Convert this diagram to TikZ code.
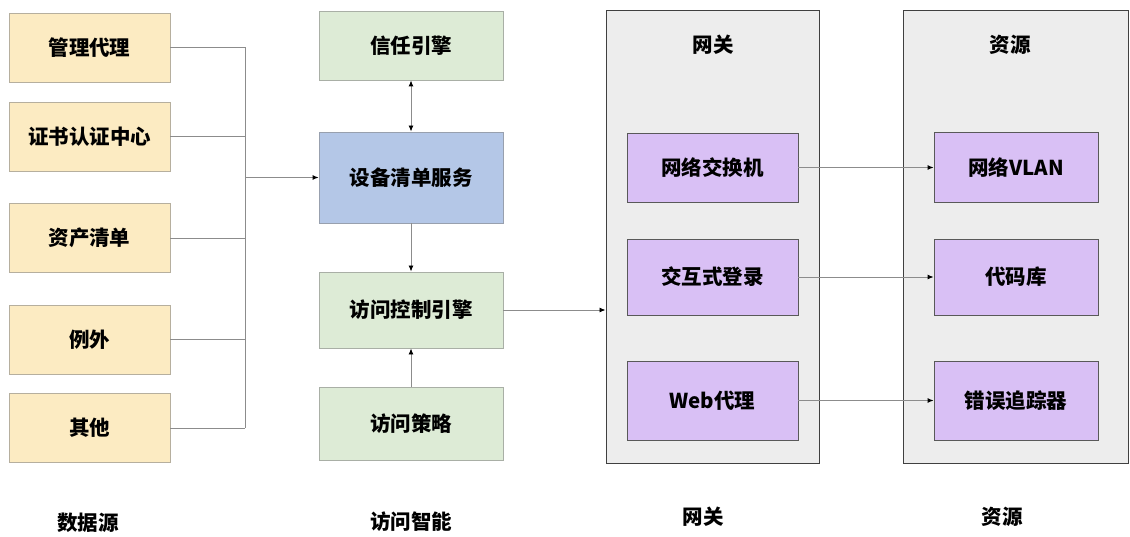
\documentclass[tikz,border=0pt]{standalone}
\usepackage{fontspec}
\setmainfont{Noto Sans CJK SC}
\usetikzlibrary{arrows.meta}
\definecolor{yel}{HTML}{FCEBC2}
\definecolor{grn}{HTML}{DDEBD6}
\definecolor{blu}{HTML}{B4C7E7}
\definecolor{pur}{HTML}{D9C0F5}
\definecolor{gbox}{HTML}{EDEDED}
\definecolor{lin}{HTML}{8C8C8C}
\newcommand{\txtfont}{\fontsize{20.5pt}{22pt}\selectfont\bfseries}
\tikzset{
  box/.style={draw=#1!60!black!70, line width=0.9pt, fill=#1, minimum width=161pt, minimum height=69pt, inner sep=0pt, font=\txtfont},
  midbox/.style={box=#1, minimum width=184pt},
  pbox/.style={draw=black!65, line width=0.9pt, fill=pur, inner sep=0pt, font=\txtfont},
  container/.style={draw=black!75, line width=1pt, fill=gbox, inner sep=0pt},
  lbl/.style={font=\txtfont, inner sep=0pt},
  conn/.style={draw=lin, line width=0.9pt},
  arr/.style={conn, -{Latex[length=6pt,width=5pt,color=black]}},
  darr/.style={conn, {Latex[length=6pt,width=5pt,color=black]}-{Latex[length=6pt,width=5pt,color=black]}},
}
\begin{document}
\begin{tikzpicture}[x=1pt,y=-1pt]
\useasboundingbox (0,0) rectangle (1130,537);
% data sources
\node[box=yel] (a1) at (89.5,47.5) {管理代理};
\node[box=yel] (a2) at (89.5,136.5) {证书认证中心};
\node[box=yel] (a3) at (89.5,238) {资产清单};
\node[box=yel] (a4) at (89.5,339.5) {例外};
\node[box=yel] (a5) at (89.5,428) {其他};
% access intelligence
\node[midbox=grn] (trust) at (411,45.5) {信任引擎};
\node[midbox=blu, minimum height=91pt] (dev) at (411,177.5) {设备清单服务};
\node[midbox=grn, minimum height=76pt] (ace) at (411,310) {访问控制引擎};
\node[midbox=grn, minimum height=73pt] (pol) at (411,423.5) {访问策略};
% containers
\node[container, minimum width=213pt, minimum height=452pt] (gw) at (712.5,237) {};
\node[container, minimum width=225pt, minimum height=452pt] (res) at (1015.5,237) {};
\node[lbl] (gwt) at (713,45) {网关};
\node[lbl] (rest) at (1010,45) {资源};
% gateway items
\node[pbox, minimum width=171pt, minimum height=69pt] (sw) at (712.5,167.5) {网络交换机};
\node[pbox, minimum width=171pt, minimum height=76pt] (login) at (712.5,277) {交互式登录};
\node[pbox, minimum width=171pt, minimum height=79pt] (web) at (712.5,400.5) {Web代理};
% resources
\node[pbox, minimum width=164pt, minimum height=70pt] (vlan) at (1016,167.5) {网络VLAN};
\node[pbox, minimum width=164pt, minimum height=76pt] (code) at (1016,277) {代码库};
\node[pbox, minimum width=164pt, minimum height=79pt] (bug) at (1016,400.5) {错误追踪器};
% bottom labels
\node[lbl] (l1) at (88,523) {数据源};
\node[lbl] (l2) at (411,522) {访问智能};
\node[lbl] (l3) at (703,517) {网关};
\node[lbl] (l4) at (1002,517) {资源};
% connectors
\coordinate (busx) at (245,0);
\foreach \n in {a1,a2,a3,a4,a5} {\draw[conn] (\n.east) -- (\n.east -| busx);}
\draw[conn] (a1.east -| busx) -- (a5.east -| busx);
\draw[arr] (dev.west -| busx) -- (dev.west);
\draw[darr] (trust) -- (dev);
\draw[arr] (dev) -- (ace);
\draw[arr] (pol) -- (ace);
\draw[arr] (ace.east) -- (ace.east -| gw.west);
\draw[arr] (sw.east) -- (vlan.west |- sw.east);
\draw[arr] (login.east) -- (code.west);
\draw[arr] (web.east) -- (bug.west);
\end{tikzpicture}
\end{document}
